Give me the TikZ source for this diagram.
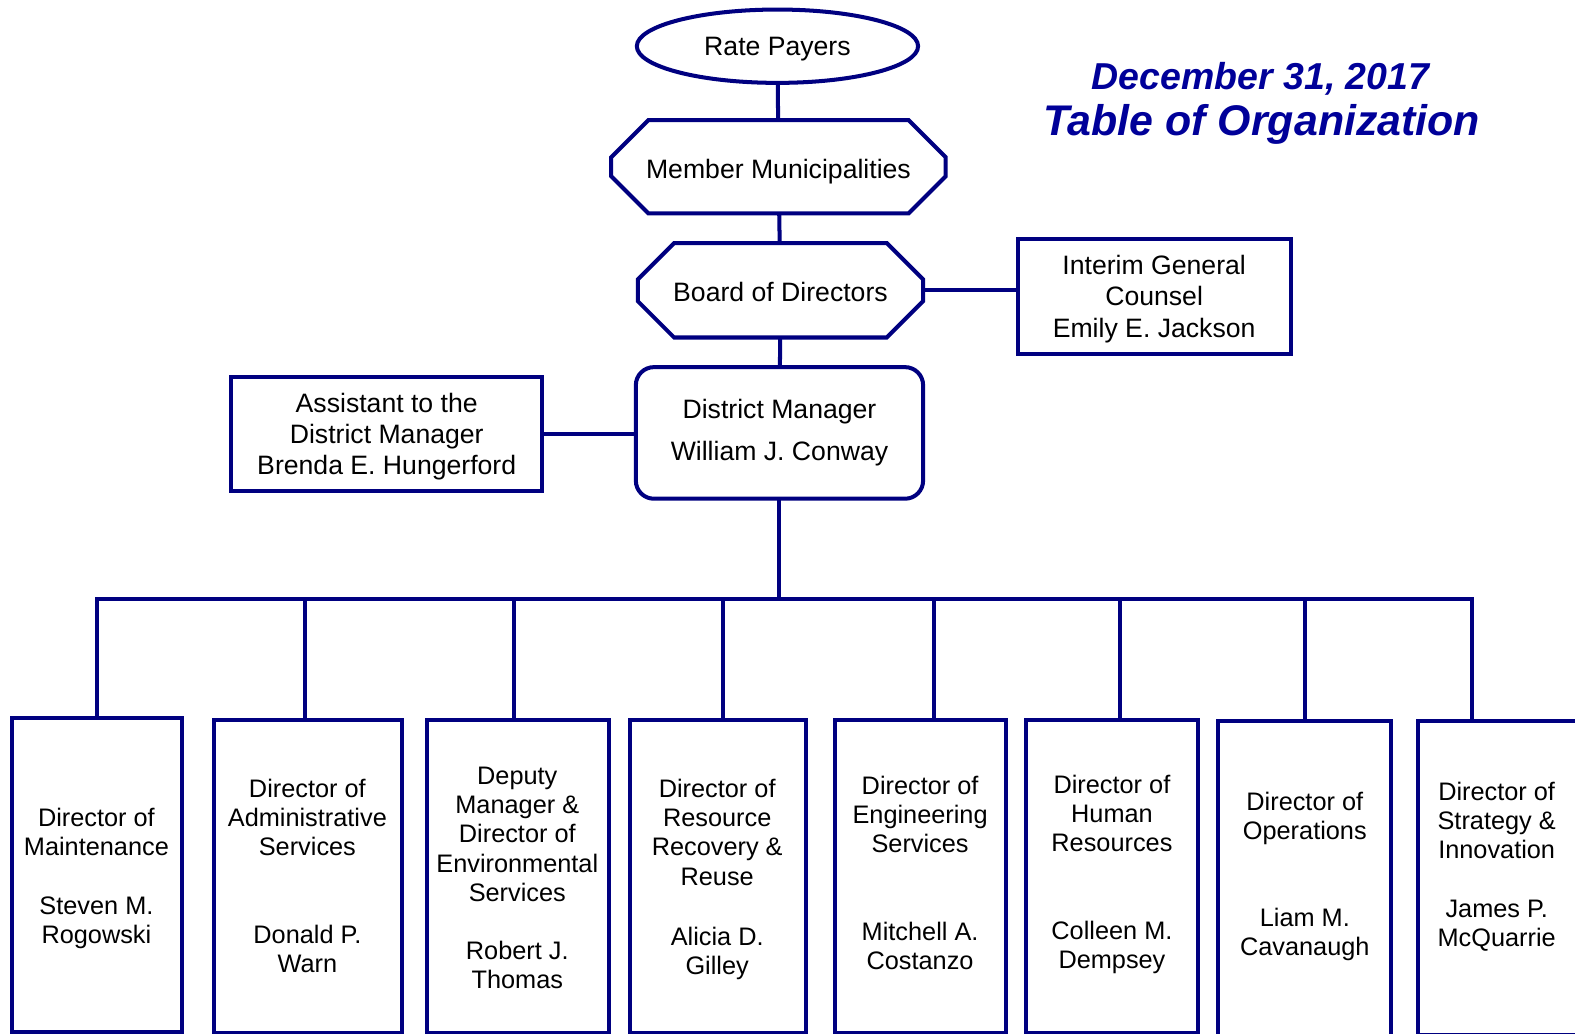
\documentclass[tikz,border=0pt]{standalone}
\usepackage{fontspec}
\setmainfont{Liberation Sans}
\usetikzlibrary{shapes.geometric,shapes.misc}
\definecolor{navyline}{RGB}{0,0,128}
\definecolor{titleblue}{RGB}{0,0,153}
\tikzset{
  conn/.style={draw=navyline, line width=4bp},
  boxbase/.style={draw=navyline, line width=4bp, inner sep=0pt, outer sep=0pt, fill=white},
  rectbox/.style={boxbase, rectangle},
  octbox/.style={boxbase, chamfered rectangle, chamfered rectangle xsep=28bp, chamfered rectangle ysep=25bp},
  lbl/.style={align=center, font=\fontsize{26.5bp}{31bp}\selectfont, inner sep=0pt},
  blbl/.style={align=center, font=\fontsize{25.2bp}{29bp}\selectfont, inner sep=0pt, text depth=0pt},
  dirbox/.style={rectbox, anchor=north, minimum height=311bp},
}
\begin{document}
\begin{tikzpicture}[x=1bp,y=-1bp]
\useasboundingbox (0,0) rectangle (1568,1029.4);
\clip (0,0) rectangle (1568,1029.4);

% title
\node[font=\fontsize{37.3bp}{40bp}\selectfont\bfseries\itshape, text=titleblue, inner sep=0pt] (t1) at (1255,78) {December 31, 2017};
\node[font=\fontsize{42.7bp}{46bp}\selectfont\bfseries\itshape, text=titleblue, inner sep=0pt] (t2) at (1256,124) {Table of Organization};

% top chain
\node[boxbase, ellipse, minimum width=280bp, minimum height=73bp, lbl, text depth=0pt] (rp) at (774,46) {Rate Payers};
\node[octbox, minimum width=333bp, minimum height=93bp, lbl, text depth=0pt, text height=24bp] (mm) at (775,166) {Member Municipalities};
\node[octbox, minimum width=284bp, minimum height=94bp, lbl, text height=22bp] (bod) at (777,289) {Board of Directors};
\node[rectbox, minimum width=272bp, minimum height=114bp, lbl, text depth=0pt] (igc) at (1149,295) {Interim General\\Counsel\\Emily E. Jackson};
\node[rectbox, rounded corners=18bp, minimum width=286bp, minimum height=131bp, lbl] (dm) at (776,431) {District Manager\\[11bp]William J. Conway};
\node[rectbox, minimum width=310bp, minimum height=114bp, lbl, text depth=0pt] (asst) at (385,432) {Assistant to the\\District Manager\\Brenda E. Hungerford};

\draw[conn] (rp) -- (mm);
\draw[conn] (mm) -- (bod);
\draw[conn] (bod.east) -- (bod.east -| igc.west);
\draw[conn] (bod) -- (dm);
\draw[conn] (asst.east) -- (asst.east -| dm.west);

% bus coordinates
\coordinate (d1) at (97,596);
\coordinate (d2) at (304,596);
\coordinate (d3) at (512,596);
\coordinate (d4) at (720,596);
\coordinate (d5) at (930,596);
\coordinate (d6) at (1115,596);
\coordinate (d7) at (1299,596);
\coordinate (d8) at (1465,596);

% director boxes
\node[dirbox, minimum width=169bp, minimum height=312bp] (b1) at (96.5,715) {};
\node[dirbox, minimum width=187bp] (b2) at (306.5,717) {};
\node[dirbox, minimum width=181bp] (b3) at (515.5,717) {};
\node[dirbox, minimum width=175bp] (b4) at (714.5,717) {};
\node[dirbox, minimum width=171bp] (b5) at (916.5,717) {};
\node[dirbox, minimum width=172bp] (b6) at (1107,717) {};
\node[dirbox, minimum width=172bp, minimum height=313bp] (b7) at (1299,718) {};
\node[dirbox, minimum width=180bp, minimum height=312.5bp] (b8) at (1502,718) {};

\draw[conn, line join=miter] (dm.south) -- (dm.south |- d1);
\draw[conn, line join=miter] (b1.north -| d1) -- (d1) -- (d8) -- (b8.north -| d8);
\foreach \i in {2,...,7} {
  \draw[conn] (d\i) -- (b\i.north -| d\i);
}

% director texts
\node[blbl] (l1) at (96,872) {Director of\\Maintenance\\[29bp]Steven M.\\Rogowski};
\node[blbl] (l2) at (306,872) {Director of\\Administrative\\Services\\[58bp]Donald P.\\Warn};
\node[blbl] (l3) at (515,874) {Deputy\\Manager \&\\Director of\\Environmental\\Services\\[29bp]Robert J.\\Thomas};
\node[blbl] (l4) at (714,873) {Director of\\Resource\\Recovery \&\\Reuse\\[31bp]Alicia D.\\Gilley};
\node[blbl] (l5) at (916,869) {Director of\\Engineering\\Services\\[58bp]Mitchell A.\\Costanzo};
\node[blbl] (l6) at (1107,868) {Director of\\Human\\Resources\\[58bp]Colleen M.\\Dempsey};
\node[blbl] (l7) at (1299,870) {Director of\\Operations\\[58bp]Liam M.\\Cavanaugh};
\node[blbl] (l8) at (1490,860.5) {Director of\\Strategy \&\\Innovation\\[29bp]James P.\\McQuarrie};
\end{tikzpicture}
\end{document}
